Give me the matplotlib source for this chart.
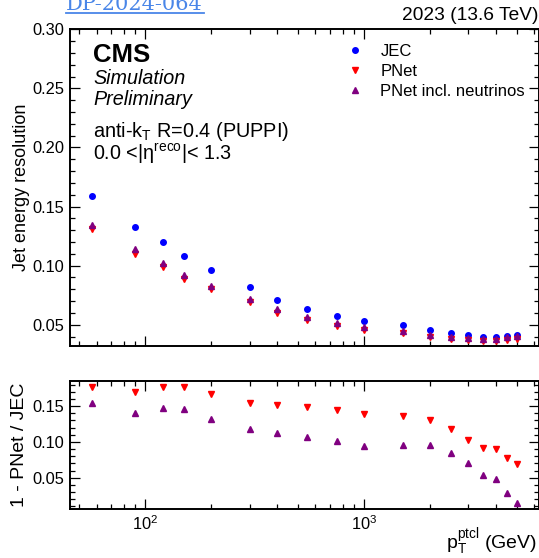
import numpy as np
import matplotlib
matplotlib.use("Agg")
import matplotlib.pyplot as plt
from matplotlib.ticker import MultipleLocator, FormatStrFormatter, LogLocator, NullFormatter

plt.rcParams['font.family'] = ['Liberation Sans', 'DejaVu Sans']
plt.rcParams['mathtext.fontset'] = 'custom'
plt.rcParams['mathtext.rm'] = 'Liberation Sans'
plt.rcParams['mathtext.it'] = 'Liberation Sans:italic'

# --- data ---
pt = [57, 90, 121, 150, 200, 300, 400, 550, 750, 1000,
      1500, 2000, 2500, 3000, 3500, 4000, 4500, 5000]
res_jec = [0.159, 0.133, 0.120, 0.108, 0.096, 0.082, 0.071, 0.0635, 0.0573, 0.053,
           0.0495, 0.0458, 0.043, 0.0413, 0.040, 0.040, 0.0405, 0.041]
res_pnet = [0.131, 0.110, 0.099, 0.089, 0.080, 0.069, 0.060, 0.054, 0.049, 0.0456,
            0.0428, 0.0398, 0.0379, 0.0370, 0.0364, 0.0364, 0.0373, 0.0382]
res_pnet_nu = [0.134, 0.114, 0.102, 0.092, 0.083, 0.072, 0.063, 0.0567, 0.0515, 0.048,
               0.0447, 0.0414, 0.0394, 0.0384, 0.0378, 0.0381, 0.0393, 0.0404]
gain_pnet = [0.177, 0.170, 0.177, 0.177, 0.167, 0.155, 0.151, 0.149, 0.144, 0.139,
             0.136, 0.130, 0.118, 0.103, 0.091, 0.090, 0.078, 0.069]
gain_pnet_nu = [0.155, 0.141, 0.147, 0.146, 0.132, 0.118, 0.112, 0.107, 0.101, 0.095,
                0.096, 0.096, 0.085, 0.070, 0.054, 0.048, 0.029, 0.015]

W, H = 539, 558
C_JEC = '#0000ff'
C_PNET = '#ff0000'
C_NU = '#800080'


def fx(x):
    return x / W


def fy(y):
    return 1 - y / H


def style_axis(ax):
    ax.set_xscale('log')
    ax.set_xlim(45.4, 6300)
    ax.xaxis.set_major_locator(LogLocator(base=10))
    ax.xaxis.set_minor_locator(LogLocator(base=10, subs=np.arange(2, 10)))
    ax.xaxis.set_minor_formatter(NullFormatter())
    ax.tick_params(which='both', direction='in', top=True, right=True,
                   labelsize=11.8, width=0.9, pad=4)
    ax.tick_params(which='major', length=7)
    ax.tick_params(which='minor', length=3.5)
    for s in ax.spines.values():
        s.set_linewidth(1.4)


fig = plt.figure(figsize=(W / 100, H / 100), dpi=100)
ax1 = fig.add_axes([fx(70), fy(346), 1 - fx(70), fy(29.3) - fy(346)])
ax2 = fig.add_axes([fx(70), fy(509), 1 - fx(70), fy(381) - fy(509)])

# top panel: resolution
ax1.plot(pt, res_jec, 'o', color=C_JEC, ms=4, label='JEC')
ax1.plot(pt, res_pnet, 'v', color=C_PNET, ms=4.2, label='PNet')
ax1.plot(pt, res_pnet_nu, '^', color=C_NU, ms=4.2, label='PNet incl. neutrinos')
style_axis(ax1)
ax1.set_ylim(0.032, 0.30)
ax1.yaxis.set_major_locator(MultipleLocator(0.05))
ax1.yaxis.set_minor_locator(MultipleLocator(0.01))
ax1.yaxis.set_major_formatter(FormatStrFormatter('%.2f'))
ax1.tick_params(axis='x', which='both', labelbottom=False)
ax1.set_ylabel('Jet energy resolution', fontsize=13)
ax1.yaxis.set_label_coords(-(70 - 30) / (W - 70), 0.5)

leg = ax1.legend(loc='upper left', bbox_to_anchor=(fx(347), fy(44)),
                 bbox_transform=fig.transFigure, frameon=False, fontsize=12,
                 handlelength=1.0, handletextpad=1.0, labelspacing=0.3,
                 borderpad=0, borderaxespad=0)

# bottom panel: relative improvement
ax2.plot(pt, gain_pnet, 'v', color=C_PNET, ms=4.5)
ax2.plot(pt, gain_pnet_nu, '^', color=C_NU, ms=4.5)
style_axis(ax2)
ax2.set_ylim(0.0065, 0.185)
ax2.yaxis.set_major_locator(MultipleLocator(0.05))
ax2.yaxis.set_minor_locator(MultipleLocator(0.01))
ax2.yaxis.set_major_formatter(FormatStrFormatter('%.2f'))
ax2.set_ylabel('1 - PNet / JEC', fontsize=14)
ax2.yaxis.set_label_coords(-(70 - 28) / (W - 70), 0.5)

# annotations
fig.text(fx(93), fy(61.5), 'CMS', fontsize=18.5, fontweight='bold', va='baseline')
fig.text(fx(93), fy(84), 'Simulation', fontsize=14.2, style='italic', va='baseline')
fig.text(fx(93), fy(105), 'Preliminary', fontsize=14.2, style='italic', va='baseline')
fig.text(fx(93), fy(137), r'anti-k$_\mathrm{T}$ R=0.4 (PUPPI)', fontsize=14.3, va='baseline')
fig.text(fx(93), fy(160), r'0.0 <|$\mathrm{\eta}^\mathrm{reco}$|< 1.3', fontsize=14.2, va='baseline')
fig.text(fx(538), fy(20), '2023 (13.6 TeV)', fontsize=13.8, ha='right', va='baseline')
fig.text(fx(537), fy(549), r'p$_\mathrm{T}^\mathrm{ptcl}$ (GeV)', fontsize=14,
         ha='right', va='baseline')

# link text at the very top (partly cut off, as in the reference)
fig.text(fx(66), fy(10), 'DP-2024-064', fontsize=15, family='DejaVu Serif',
         color='#4a86e8', va='baseline')
fig.add_artist(plt.Line2D([fx(66), fx(204)], [fy(13.3), fy(13.3)],
                          color='#4a86e8', lw=1.3, transform=fig.transFigure))

fig.savefig('out.png', dpi=100)
